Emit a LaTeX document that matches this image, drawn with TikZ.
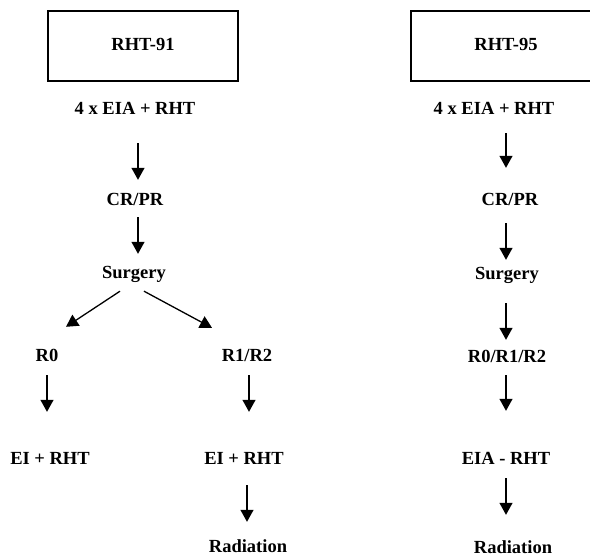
\documentclass[tikz,border=0pt]{standalone}
\usepackage{fontspec}
\setmainfont{Liberation Serif}
\usetikzlibrary{arrows.meta}

\begin{document}
\begin{tikzpicture}[x=1pt, y=-1pt,
        txt/.style={font=\fontsize{18.5}{22}\selectfont\bfseries, inner sep=0pt, text height=13pt, text depth=4pt},
        armbox/.style={txt, draw=black, line width=1.8pt, minimum width=190pt, minimum height=70pt},
        flow/.style={line width=1.3pt, -{Triangle[width=13pt,length=12pt]}}]
        \useasboundingbox (0,0) rectangle (590,556);
        \clip (0,0) rectangle (590,556);

        % RHT-91 arm
        \node[armbox] (rht91) at (143, 46) {RHT-91};
        \node[txt] (eia1) at (135, 110) {4 x EIA + RHT};
        \node[txt] (crpr1) at (135, 201) {CR/PR};
        \node[txt] (surg1) at (134, 274) {Surgery};
        \node[txt] (r0) at (47, 357) {R0};
        \node[txt] (r12) at (247, 357) {R1/R2};
        \node[txt] (ei0) at (50, 460) {EI + RHT};
        \node[txt] (ei12) at (244, 460) {EI + RHT};
        \node[txt] (rad1) at (248, 548) {Radiation};
        \coordinate (colL) at (138, 0);

        \draw[flow, shorten <=24.5pt, shorten >=12.5pt] (eia1.south -| colL) -- (crpr1.north -| colL);
        \draw[flow, shorten <=7.5pt, shorten >=11.5pt] (crpr1.south -| colL) -- (surg1.north -| colL);
        \draw[flow] ([shift={(-14,8.5)}]surg1.south) -- ([shift={(19,-21.5)}]r0.north);
        \draw[flow] ([shift={(10,8.5)}]surg1.south) -- ([shift={(-35,-20.5)}]r12.north);
        \draw[flow, shorten <=9.5pt, shorten >=39.5pt] (r0.south) -- (r0.south |- ei0.north);
        \draw[flow, shorten <=9.5pt, shorten >=39.5pt] ([xshift=2pt]r12.south) -- ([xshift=2pt]r12.south |- ei12.north);
        \draw[flow, shorten <=16.5pt, shorten >=17.5pt] (ei12.south -| r12) -- (rad1.north -| r12);

        % RHT-95 arm
        \node[armbox] (rht95) at (506, 46) {RHT-95};
        \node[txt] (eia2) at (494, 110) {4 x EIA + RHT};
        \node[txt] (crpr2) at (510, 201) {CR/PR};
        \node[txt] (surg2) at (507, 275) {Surgery};
        \node[txt] (r012) at (507, 358) {R0/R1/R2};
        \node[txt] (eia3) at (506, 460) {EIA - RHT};
        \node[txt] (rad2) at (513, 549) {Radiation};
        \coordinate (colR) at (506, 0);

        \draw[flow, shorten <=14.5pt, shorten >=24.5pt] (eia2.south -| colR) -- (crpr2.north -| colR);
        \draw[flow, shorten <=13.5pt, shorten >=6.5pt] (crpr2.south -| colR) -- (surg2.north -| colR);
        \draw[flow, shorten <=19.5pt, shorten >=9.5pt] (surg2.south -| colR) -- (r012.north -| colR);
        \draw[flow, shorten <=8.5pt, shorten >=40.5pt] (r012.south -| colR) -- (eia3.north -| colR);
        \draw[flow, shorten <=9.5pt, shorten >=25.5pt] (eia3.south -| colR) -- (rad2.north -| colR);
\end{tikzpicture}
\end{document}
